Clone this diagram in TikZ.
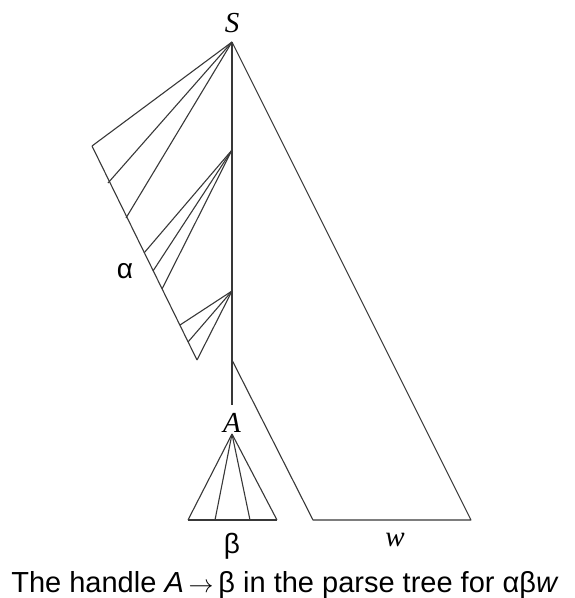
\documentclass[tikz,border=0pt]{standalone}
\usepackage{fontspec}
\setmainfont{Liberation Sans}
\newfontfamily\tms{Liberation Serif}
\begin{document}
\begin{tikzpicture}[x=1pt,y=-1pt,
  edge/.style={draw=black!78,line width=1.1pt,line join=round},
  lab/.style={inner sep=0pt,anchor=base,font=\fontsize{28}{30}\selectfont},
  sym/.style={inner sep=0pt,anchor=base,font=\tms\itshape\fontsize{29}{30}\selectfont}]
\useasboundingbox (0,0) rectangle (575,598);
% labels
\node[sym] (Slab) at (232,32) {S};
\node[sym] (Alab) at (232,432) {A};
\node[sym] (wlab) at (395,546) {w};
\node[lab] (alab) at (125,278) {α};
\node[lab] (blab) at (232,553) {β};
\node[lab,font=\fontsize{29}{30}\selectfont] (cap) at (285,592) {The handle \textit{A}\,$\rightarrow$\,β in the parse tree for αβ\textit{w}};
% points
\coordinate (S) at (232,42);
\coordinate (n2) at (232,150);
\coordinate (n3) at (232,291);
\coordinate (n4) at (232,360);
\coordinate (vend) at (232,405);
\coordinate (L0) at (92,146);
\coordinate (L1) at (108,183);
\coordinate (L2) at (126,218);
\coordinate (L3) at (144,253);
\coordinate (L4) at (153,271);
\coordinate (L5) at (162,289);
\coordinate (L6) at (180,325);
\coordinate (L7) at (188,342);
\coordinate (L8) at (197,360);
\coordinate (R1) at (313,520);
\coordinate (R2) at (471,520);
\coordinate (A) at (232,434);
\coordinate (B0) at (188,520);
\coordinate (B1) at (215,520);
\coordinate (B2) at (250,520);
\coordinate (B3) at (277,520);
% main spine and right triangle
\draw[edge] (S) -- (vend);
\draw[edge] (S) -- (R2) -- (R1) -- (n4);
% left fan
\draw[edge] (L0) -- (L8);
\draw[edge] (S) -- (L0);
\draw[edge] (S) -- (L1);
\draw[edge] (S) -- (L2);
\draw[edge] (n2) -- (L3);
\draw[edge] (n2) -- (L4);
\draw[edge] (n2) -- (L5);
\draw[edge] (n3) -- (L6);
\draw[edge] (n3) -- (L7);
\draw[edge] (n3) -- (L8);
% handle triangle
\draw[edge] (B0) -- (B3);
\draw[edge] (A) -- (B0);
\draw[edge] (A) -- (B1);
\draw[edge] (A) -- (B2);
\draw[edge] (A) -- (B3);
\end{tikzpicture}
\end{document}
